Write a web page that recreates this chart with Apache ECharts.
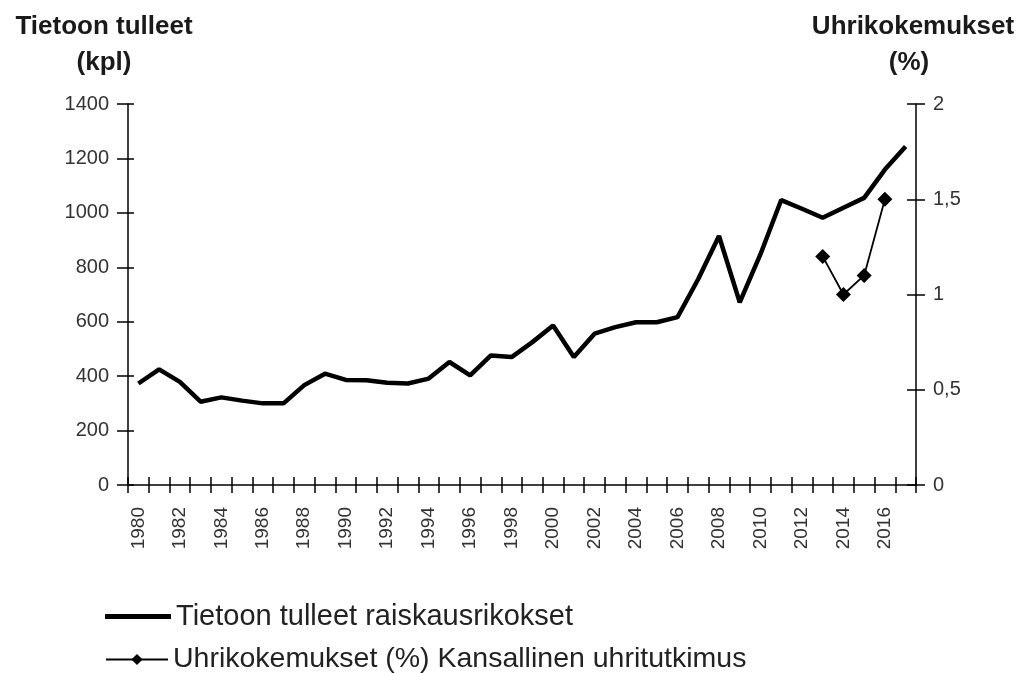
<!DOCTYPE html>
<html>
<head>
<meta charset="utf-8">
<script src="https://cdn.jsdelivr.net/npm/echarts@6/dist/echarts.min.js"></script>
<style>
html,body{margin:0;padding:0;background:#fff;}
#chart{width:1019px;height:673px;}
</style>
</head>
<body>
<div id="chart"></div>
<script>
// ---- data ----
const years = ['1980','1981','1982','1983','1984','1985','1986','1987','1988','1989',
  '1990','1991','1992','1993','1994','1995','1996','1997','1998','1999',
  '2000','2001','2002','2003','2004','2005','2006','2007','2008','2009',
  '2010','2011','2012','2013','2014','2015','2016','2017'];
const reportedRapes = [373, 425, 379, 306, 322, 310, 300, 300, 367, 409,
  386, 385, 376, 373, 391, 452, 403, 476, 470, 525,
  586, 470, 556, 580, 598, 598, 617, 757, 915, 671,
  848, 1047, 1015, 982, 1019, 1055, 1159, 1244];
const victimSurvey = [null,null,null,null,null,null,null,null,null,null,
  null,null,null,null,null,null,null,null,null,null,
  null,null,null,null,null,null,null,null,null,null,
  null,null,null,1.2, 1.0, 1.1, 1.5, null];
const leftTitle = ['Tietoon tulleet', '(kpl)'];
const rightTitle = ['Uhrikokemukset', '(%)'];
const seriesNames = ['Tietoon tulleet raiskausrikokset', 'Uhrikokemukset (%) Kansallinen uhritutkimus'];

const font = 'Liberation Sans, Arial, sans-serif';
const chart = echarts.init(document.getElementById('chart'), null, {renderer: 'canvas'});
const axisLine = {show: true, lineStyle: {color: '#000', width: 1.5}};
const grid = {left: 128, right: 103, top: 104, bottom: 188, containLabel: false};
const legendText = {fontFamily: font, fontSize: 29, color: '#222'};

chart.setOption({
  animation: false,
  backgroundColor: '#fff',
  grid: grid,
  graphic: [
    {type: 'text', x: 104, y: 14, style: {text: leftTitle[0], font: 'bold 26px ' + font, fill: '#1a1a1a', textAlign: 'center'}},
    {type: 'text', x: 104, y: 50, style: {text: leftTitle[1], font: 'bold 26px ' + font, fill: '#1a1a1a', textAlign: 'center'}},
    {type: 'text', x: 913, y: 14, style: {text: rightTitle[0], font: 'bold 26px ' + font, fill: '#1a1a1a', textAlign: 'center'}},
    {type: 'text', x: 909, y: 50, style: {text: rightTitle[1], font: 'bold 26px ' + font, fill: '#1a1a1a', textAlign: 'center'}}
  ],
  legend: [
    {
      left: 100, top: 597,
      itemWidth: 66, itemHeight: 5, selectedMode: false,
      textStyle: legendText,
      data: [{name: seriesNames[0], icon: 'rect'}]
    },
    {
      left: 100, top: 640,
      itemWidth: 62, itemHeight: 14, selectedMode: false,
      textStyle: Object.assign({}, legendText, {fontSize: 28.5}),
      data: [seriesNames[1]]
    }
  ],
  xAxis: [
    {
      type: 'category', data: years, boundaryGap: true,
      axisLine: axisLine,
      axisTick: {show: true, interval: 0, length: 8, inside: false, lineStyle: {color: '#000', width: 1.5}},
      axisLabel: {interval: 1, rotate: 90, margin: 22, fontFamily: font, fontSize: 19, color: '#333'},
      splitLine: {show: false}
    },
    {
      type: 'category', data: years, boundaryGap: true, position: 'bottom',
      axisLine: {show: false},
      axisTick: {show: true, interval: 0, length: 8, inside: true, lineStyle: {color: '#000', width: 1.5}},
      axisLabel: {show: false},
      splitLine: {show: false}
    }
  ],
  yAxis: [
    {
      type: 'value', min: 0, max: 1400, interval: 200, position: 'left',
      axisLine: axisLine,
      axisTick: {show: true, length: 11, lineStyle: {color: '#000', width: 1.5}},
      axisLabel: {margin: 19, fontFamily: font, fontSize: 20, color: '#333',
        formatter: v => String(v)},
      splitLine: {show: false}
    },
    {
      type: 'value', min: 0, max: 2, interval: 0.5, position: 'right',
      axisLine: axisLine,
      axisTick: {show: true, length: 9, lineStyle: {color: '#000', width: 1.5}},
      axisLabel: {margin: 17, fontFamily: font, fontSize: 20, color: '#333',
        formatter: v => String(v).replace('.', ',')},
      splitLine: {show: false}
    },
    {
      type: 'value', min: 0, max: 1400, interval: 200, position: 'left',
      axisLine: {show: false},
      axisTick: {show: true, inside: true, length: 6, lineStyle: {color: '#000', width: 1.5}},
      axisLabel: {show: false},
      splitLine: {show: false}
    },
    {
      type: 'value', min: 0, max: 2, interval: 0.5, position: 'right',
      axisLine: {show: false},
      axisTick: {show: true, inside: true, length: 9, lineStyle: {color: '#000', width: 1.5}},
      axisLabel: {show: false},
      splitLine: {show: false}
    }
  ],
  series: [
    {
      name: seriesNames[0], type: 'line', data: reportedRapes,
      xAxisIndex: 0, yAxisIndex: 0,
      symbol: 'none', lineStyle: {color: '#000', width: 4.5},
      itemStyle: {color: '#000'}
    },
    {
      name: seriesNames[1], type: 'line', data: victimSurvey,
      xAxisIndex: 0, yAxisIndex: 1,
      symbol: 'diamond', symbolSize: 15, showSymbol: true, showAllSymbol: true,
      lineStyle: {color: '#000', width: 1.8},
      itemStyle: {color: '#000'}
    }
  ]
});
</script>
</body>
</html>
